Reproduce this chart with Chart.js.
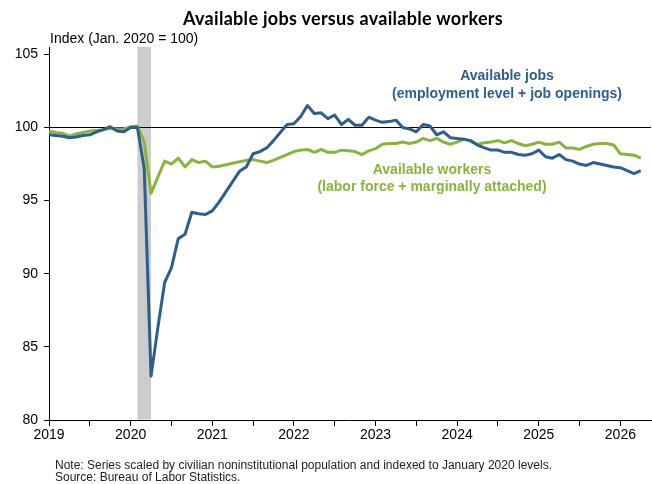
<!DOCTYPE html>
<html>
<head>
<meta charset="utf-8">
<script src="https://cdn.jsdelivr.net/npm/chart.js@4/dist/chart.umd.min.js"></script>
<style>
  body { margin: 0; background: #fff; }
  #wrap { position: relative; width: 652px; height: 484px; font-family: 'Liberation Sans', Arial, sans-serif; color: #000; }
  canvas { position: absolute; left: 0; top: 0; }
  .txt { position: absolute; white-space: nowrap; }
  #title { left: 343px; top: 7px; transform: translateX(-50%); font: bold 18px Lato, 'Noto Sans', sans-serif; letter-spacing: 0.3px; line-height: 22px; }
  #ytitle { left: 50px; top: 30px; font-size: 14px; line-height: 16px; }
  #lblJobs { left: 507px; top: 66px; transform: translateX(-50%); text-align: center; font-weight: bold; font-size: 14px; line-height: 18px; color: #2e5e8e; }
  #lblWorkers { left: 432px; top: 161px; transform: translateX(-50%); text-align: center; font-weight: bold; font-size: 14px; line-height: 17px; color: #8ab33b; }
  #note { left: 55px; top: 459px; font-size: 12px; line-height: 12px; color: #222; }
</style>
</head>
<body>
<div id="wrap">
  <canvas id="c" width="652" height="484"></canvas>
  <div class="txt" id="title">Available jobs versus available workers</div>
  <div class="txt" id="ytitle">Index (Jan. 2020 = 100)</div>
  <div class="txt" id="lblJobs">Available jobs<br>(employment level + job openings)</div>
  <div class="txt" id="lblWorkers">Available workers<br>(labor force + marginally attached)</div>
  <div class="txt" id="note">Note: Series scaled by civilian noninstitutional population and indexed to January 2020 levels.<br>Source: Bureau of Labor Statistics.</div>
</div>
<script>
// monthly series, Jan 2019 = index 0
const yearLabels = ['2019', '2020', '2021', '2022', '2023', '2024', '2025', '2026'];
const yTicks = [80, 85, 90, 95, 100, 105];

const availableJobs = [
  99.5, 99.45, 99.4, 99.3, 99.35, 99.45, 99.5, 99.7, 99.85, 100.05, 99.75, 99.7,      // 2019
  100.0, 100.0, 97.2, 83.0, 86.3, 89.4, 90.4, 92.4, 92.7, 94.2, 94.1, 94.05,          // 2020
  94.3, 94.9, 95.6, 96.3, 97.0, 97.3, 98.2, 98.35, 98.6, 99.1, 99.65, 100.2,          // 2021
  100.25, 100.75, 101.5, 100.95, 101.0, 100.6, 100.85, 100.2, 100.55, 100.15, 100.15, 100.7, // 2022
  100.5, 100.35, 100.4, 100.5, 100.0, 99.9, 99.7, 100.2, 100.1, 99.5, 99.7, 99.3,     // 2023
  99.25, 99.2, 99.1, 98.8, 98.6, 98.45, 98.45, 98.3, 98.3, 98.15, 98.1, 98.2,         // 2024
  98.45, 98.0, 97.9, 98.15, 97.8, 97.7, 97.5, 97.4, 97.6, 97.5, 97.4, 97.3,           // 2025
  97.25, 97.05, 96.85, 97.05                                                           // 2026
];

const availableWorkers = [
  99.75, 99.65, 99.6, 99.4, 99.55, 99.65, 99.75, 99.8, 99.85, 99.95, 99.9, 99.9,      // 2019
  100.05, 100.1, 99.0, 95.5, 96.6, 97.7, 97.5, 97.9, 97.3, 97.8, 97.6, 97.7,          // 2020
  97.3, 97.35, 97.45, 97.55, 97.65, 97.75, 97.8, 97.7, 97.6, 97.75, 97.95, 98.15,     // 2021
  98.35, 98.45, 98.5, 98.3, 98.5, 98.3, 98.3, 98.45, 98.4, 98.35, 98.15, 98.4,        // 2022
  98.55, 98.85, 98.9, 98.9, 99.0, 98.9, 99.0, 99.25, 99.1, 99.25, 99.0, 98.85,        // 2023
  99.0, 99.2, 99.05, 98.85, 98.95, 99.0, 99.1, 98.95, 99.1, 98.9, 98.75, 98.85,       // 2024
  99.0, 98.85, 98.85, 99.0, 98.6, 98.6, 98.5, 98.7, 98.85, 98.9, 98.9, 98.8,          // 2025
  98.2, 98.15, 98.1, 97.9                                                              // 2026
];

// recession shading: Feb 2020 – Apr 2020 (month index)
const recession = [13, 15];

const BLUE  = '#2e5e8e';
const GREEN = '#8ab33b';

const toPts = arr => arr.map((v, i) => ({ x: i, y: v }));

// recession shade + reference line at 100
const backdrop = {
  id: 'backdrop',
  beforeDatasetsDraw(chart) {
    const { ctx, chartArea: a, scales: { x, y } } = chart;
    ctx.save();
    const x0 = x.getPixelForValue(recession[0]);
    const x1 = x.getPixelForValue(recession[1]);
    ctx.fillStyle = '#cccccc';
    ctx.fillRect(x0, a.top, x1 - x0, a.bottom - a.top - 0.5);
    const yy = Math.round(y.getPixelForValue(100)) + 0.5;
    ctx.strokeStyle = '#000';
    ctx.lineWidth = 1;
    ctx.beginPath();
    ctx.moveTo(a.left, yy);
    ctx.lineTo(a.right, yy);
    ctx.stroke();
    ctx.restore();
  }
};

const tickFont = { family: "'Liberation Sans', Arial, sans-serif", size: 14 };

new Chart(document.getElementById('c'), {
  type: 'line',
  data: {
    datasets: [
      { data: toPts(availableJobs),    borderColor: BLUE,  borderWidth: 3, pointRadius: 0, tension: 0, borderJoinStyle: 'round' },
      { data: toPts(availableWorkers), borderColor: GREEN, borderWidth: 3, pointRadius: 0, tension: 0, borderJoinStyle: 'round' },
    ],
  },
  options: {
    responsive: false,
    animation: false,
    devicePixelRatio: 1,
    layout: { padding: { top: 47, right: 1, left: 0, bottom: 0 } },
    plugins: { legend: { display: false }, tooltip: { enabled: false }, title: { display: false } },
    scales: {
      x: {
        type: 'linear',
        min: 0,
        max: 88.5,
        // year ticks labelled, half-year ticks unlabelled
        afterBuildTicks: s => {
          s.ticks = yearLabels.flatMap((_, i) => [{ value: i * 12 }, { value: i * 12 + 6 }])
            .filter(t => t.value <= s.max);
        },
        afterFit: s => { s.height = 64; },
        ticks: {
          autoSkip: false, maxRotation: 0, color: '#000', font: tickFont, padding: 1,
          callback: v => (v % 12 === 0 ? yearLabels[v / 12] : ''),
        },
        grid: { display: true, drawOnChartArea: false, drawTicks: true, tickLength: 6, color: '#000', tickColor: '#000' },
        border: { display: true, color: '#000', width: 1 },
      },
      y: {
        min: 80,
        max: 105.5,
        afterBuildTicks: s => { s.ticks = yTicks.map(v => ({ value: v })); },
        afterFit: s => { s.width = 49; },
        ticks: { color: '#000', font: tickFont, padding: 6 },
        grid: { display: true, drawOnChartArea: false, drawTicks: true, tickLength: 5, color: '#000', tickColor: '#000' },
        border: { display: true, color: '#000', width: 1 },
      },
    },
  },
  plugins: [backdrop],
});
</script>
</body>
</html>
